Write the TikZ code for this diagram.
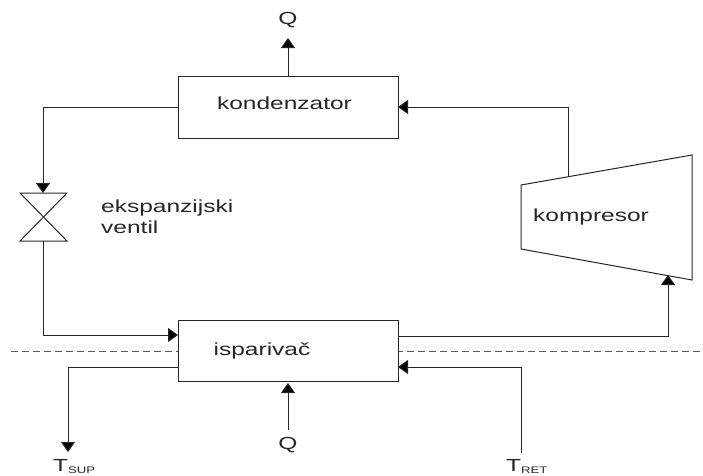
\documentclass[tikz,border=0pt]{standalone}
\usepackage{fontspec}
\setmainfont{Liberation Sans}
\usetikzlibrary{arrows.meta}
\newcommand{\wide}[1]{\scalebox{1.4}[1]{#1}}
\newcommand{\tlab}[1]{\wide{T}\raisebox{-2.5pt}{\scalebox{1.38}[1]{\fontsize{9.5}{11}\selectfont #1}}}
\tikzset{
  block/.style={draw=black!85,line width=1pt,fill=white,inner sep=0pt,anchor=north west},
  conn/.style={draw=black!85,line width=1pt},
  flow/.style={conn,-{Triangle[length=10pt,width=14pt,fill=black]}},
  lab/.style={inner sep=0pt,font=\fontsize{17.5}{20}\selectfont,text=black!85},
  sym/.style={draw=black!85,line width=1pt},
  sep/.style={draw=black!65,line width=1pt,dash pattern=on 7pt off 4pt}
}
\begin{document}
\begin{tikzpicture}[x=1pt,y=-1pt]
\useasboundingbox (0,0) rectangle (703,475);
% separator
\coordinate (dl) at (11,351);
\coordinate (dr) at (703,351);
\draw[sep] (dl) -- (dr);
% blocks
\node[block,minimum width=220pt,minimum height=62pt] (kond) at (178,76) {};
\node[block,minimum width=220pt,minimum height=61pt] (isp) at (178,320) {};
% compressor
\coordinate (k1) at (521,185);
\coordinate (k2) at (692,155);
\coordinate (k3) at (692,280);
\coordinate (k4) at (521,249);
\draw[sym] (k1) -- (k2) -- (k3) -- (k4) -- cycle;
\coordinate (kout) at (568,177);
\coordinate (kin) at (668,275);
% valve
\coordinate (v1) at (20,193);
\coordinate (v2) at (67,193);
\coordinate (v3) at (20,241);
\coordinate (v4) at (67,241);
\coordinate (vt) at (43,193);
\coordinate (vb) at (43,241);
\draw[sym] (v1) -- (v2) -- (v3) -- (v4) -- cycle;
% labels
\node[lab] at (284.5,103) {\wide{kondenzator}};
\node[lab] at (262,351) {\wide{isparivač}};
\node[lab] at (591,217) {\wide{kompresor}};
\node[lab,anchor=west] at (101,208) {\wide{ekspanzijski}};
\node[lab,anchor=west] at (101,227) {\wide{ventil}};
\node[lab] (qt) at (288,20) {\wide{Q}};
\node[lab] (qb) at (288,445) {\wide{Q}};
\node[lab,anchor=base west] (tsup) at (53,471) {\tlab{SUP}};
\node[lab,anchor=base west] (tret) at (506,471) {\tlab{RET}};
% connectors
\draw[flow] (288,76) -- (288,38);
\draw[flow] (kout) |- (398,107);
\draw[conn] (178,107) -| (43,150);
\draw[flow] (43,150) -- (vt);
\draw[flow] (vb) |- (178,335);
\draw[flow] (398,336) -| (kin);
\draw[conn] (178,367) -| (68,400);
\draw[flow] (68,400) -- (68,452);
\coordinate (qbs) at (288,430);
\draw[flow] (qbs) -- (288,383);
\coordinate (trs) at (521,453);
\draw[flow] (trs) |- (398,367);
\end{tikzpicture}
\end{document}
